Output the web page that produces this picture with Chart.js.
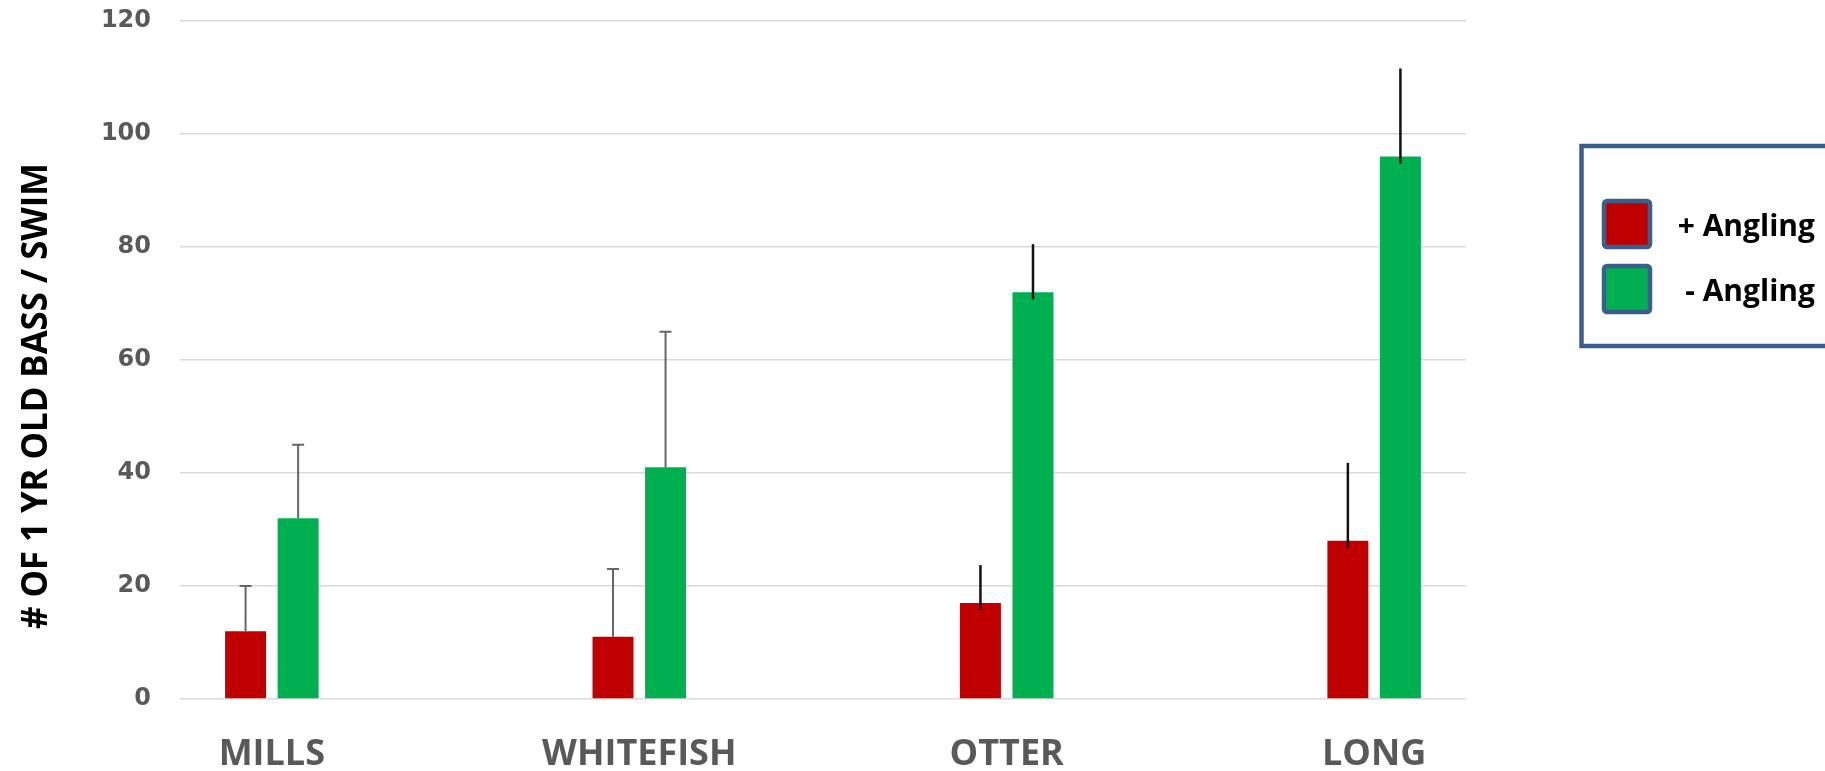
<!DOCTYPE html>
<html>
<head>
<meta charset="utf-8">
<script src="https://cdn.jsdelivr.net/npm/chart.js@4.4.1/dist/chart.umd.min.js"></script>
<style>
  html, body { margin: 0; padding: 0; background: #ffffff; }
  #wrap { width: 1825px; height: 771px; position: relative; }
</style>
</head>
<body>
<div id="wrap"><canvas id="chart"></canvas></div>
<script>
// Lakes surveyed and mean yearling bass per swim, with and without angling
const lakes = ['MILLS', 'WHITEFISH', 'OTTER', 'LONG'];
const seriesNames = ['+ Angling', '- Angling'];
const withAngling = [12, 11, 17, 28];
const withAnglingErr = [8, 12, 6.7, 13.8];
const noAngling = [32, 41, 72, 96];
const noAnglingErr = [13, 24, 8.5, 15.6];
const yTicks = [0, 20, 40, 60, 80, 100, 120];
const yTitle = '# OF 1 YR OLD BASS / SWIM';

// Whisker look per lake (the first two have capped grey whiskers)
const whiskerStyle = [
  { color: '#666666', width: 2, cap: 12, sink: 0 },
  { color: '#666666', width: 2, cap: 12, sink: 0 },
  { color: '#111111', width: 2.5, cap: 0, sink: 7 },
  { color: '#111111', width: 2.5, cap: 0, sink: 7 }
];

const colors = ['#C00000', '#00B050'];
const labelFont = '"Open Sans", "DejaVu Sans", sans-serif';

const errorBars = {
  id: 'errorBars',
  afterDatasetsDraw(chart) {
    const { ctx } = chart;
    const y = chart.scales.y;
    chart.data.datasets.forEach((ds, di) => {
      const meta = chart.getDatasetMeta(di);
      meta.data.forEach((bar, i) => {
        const st = whiskerStyle[i];
        const top = y.getPixelForValue(ds.data[i].y + ds.errors[i]);
        const base = bar.y + st.sink;
        ctx.save();
        ctx.strokeStyle = st.color;
        ctx.lineWidth = st.width;
        ctx.beginPath();
        ctx.moveTo(bar.x, base);
        ctx.lineTo(bar.x, top);
        if (st.cap) {
          ctx.moveTo(bar.x - st.cap / 2, top);
          ctx.lineTo(bar.x + st.cap / 2, top);
        }
        ctx.stroke();
        ctx.restore();
      });
    });
  }
};

// Rotated axis title, set in a condensed bold face
const axisTitle = {
  id: 'axisTitle',
  afterDraw(chart) {
    const { ctx } = chart;
    ctx.save();
    ctx.font = 'bold 36px ' + labelFont;
    const w = ctx.measureText(yTitle).width;
    ctx.translate(37, 396);
    ctx.rotate(-Math.PI / 2);
    ctx.scale(466 / w, 1);
    ctx.fillStyle = '#000000';
    ctx.textAlign = 'center';
    ctx.textBaseline = 'middle';
    ctx.fillText(yTitle, 0, 0);
    ctx.restore();
  }
};

// Boxed legend on the right
const boxedLegend = {
  id: 'boxedLegend',
  afterDraw(chart) {
    const { ctx } = chart;
    ctx.save();
    ctx.strokeStyle = '#3B5F8C';
    ctx.lineWidth = 4.5;
    ctx.strokeRect(1581.5, 146, 260, 200);
    const rows = [224, 289];
    chart.data.datasets.forEach((ds, i) => {
      const cy = rows[i];
      ctx.beginPath();
      ctx.roundRect(1604, cy - 23, 46, 46, 3);
      ctx.fillStyle = ds.backgroundColor;
      ctx.fill();
      ctx.lineWidth = 4.5;
      ctx.strokeStyle = '#3B5F8C';
      ctx.stroke();
      ctx.fillStyle = '#000000';
      ctx.font = 'bold 30px ' + labelFont;
      ctx.textAlign = 'right';
      ctx.textBaseline = 'middle';
      ctx.fillText(ds.label, 1815, cy + 3);
    });
    ctx.restore();
  }
};

const toPoints = (vals) => vals.map((v, i) => ({ x: i, y: v }));

new Chart(document.getElementById('chart'), {
  type: 'bar',
  data: {
    datasets: [
      { label: seriesNames[0], data: toPoints(withAngling), errors: withAnglingErr,
        backgroundColor: colors[0], borderWidth: 0 },
      { label: seriesNames[1], data: toPoints(noAngling), errors: noAnglingErr,
        backgroundColor: colors[1], borderWidth: 0 }
    ]
  },
  options: {
    responsive: true,
    maintainAspectRatio: false,
    animation: false,
    categoryPercentage: 0.286,
    barPercentage: 0.78,
    layout: { padding: { top: 21, right: 359, left: 0, bottom: 0 } },
    plugins: { legend: { display: false }, tooltip: { enabled: false } },
    scales: {
      x: {
        type: 'linear',
        offset: false,
        min: -0.25,
        max: 3.25,
        afterBuildTicks: (s) => { s.ticks = lakes.map((_, i) => ({ value: i })); },
        afterFit: (s) => { s.height = 72; },
        grid: { display: false },
        border: { display: false },
        ticks: {
          autoSkip: false,
          maxRotation: 0,
          padding: 26,
          color: '#595959',
          font: { family: labelFont, size: 36, weight: 'bold' },
          callback: (v) => lakes[v]
        }
      },
      y: {
        min: 0,
        max: 120,
        afterBuildTicks: (s) => { s.ticks = yTicks.map((v) => ({ value: v })); },
        afterFit: (s) => { s.width = 180; },
        grid: {
          color: '#D9D9D9',
          lineWidth: 1.5,
          drawTicks: true,
          tickLength: 25,
          tickColor: 'rgba(0,0,0,0)'
        },
        border: { display: false },
        ticks: {
          padding: 4,
          color: '#595959',
          font: { family: '"DejaVu Sans", sans-serif', size: 24, weight: 'bold' }
        }
      }
    }
  },
  plugins: [errorBars, axisTitle, boxedLegend]
});
</script>
</body>
</html>
